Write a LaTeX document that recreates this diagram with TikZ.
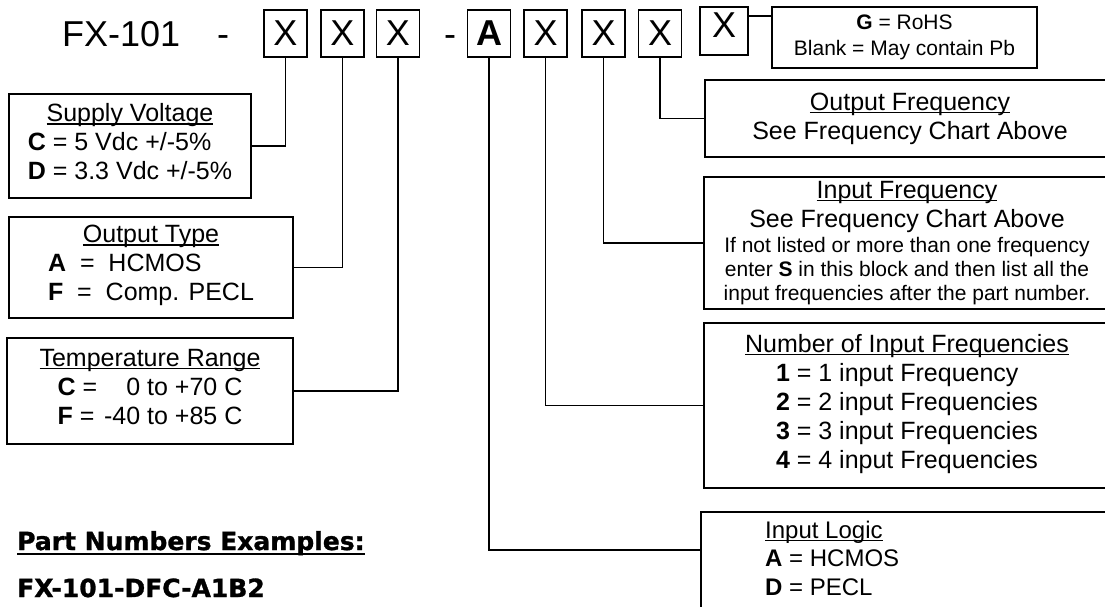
\documentclass[tikz,border=0pt]{standalone}
\usepackage{fontspec}
\setmainfont{Liberation Sans}
\newfontfamily\heavyfont{DejaVu Sans}[BoldFeatures={FakeBold=1.2}]
\newcommand{\ulab}[1]{\setbox0=\hbox{#1}\leavevmode\rlap{\vrule width\wd0 height -1.5pt depth 3pt}\box0}
\newcommand{\bigsz}{\fontsize{25}{29}\selectfont}
\newcommand{\smallsz}{\fontsize{21}{24}\selectfont}
\newcommand{\topsz}{\fontsize{36}{40}\selectfont}
\begin{document}
\begin{tikzpicture}[x=1pt,y=-1pt,
    digit/.style={draw,line width=1.9pt,inner sep=0pt,minimum width=43pt,minimum height=47pt,font=\topsz},
    infobox/.style={draw,line width=1.9pt,inner sep=0pt,align=center,font=\bigsz},
    link/.style={line width=1.9pt}]
    \useasboundingbox (0,0) rectangle (1105,607);
    % Part number
    \node[anchor=base west,inner sep=0pt,font=\topsz] (fx) at (62,47) {FX-101};
    \node[anchor=base,inner sep=0pt,font=\topsz] (dash1) at (223,47) {-};
    \node[digit] (b1) at (285.5,33.5) {X};
    \node[digit] (b2) at (342.5,33.5) {X};
    \node[digit] (b3) at (398,33.5) {X};
    \node[anchor=base,inner sep=0pt,font=\topsz] (dash2) at (450,47) {-};
    \node[digit] (bA) at (489,33.5) {\textbf{A}};
    \node[digit] (b4) at (545.5,33.5) {X};
    \node[digit] (b5) at (603.5,33.5) {X};
    \node[digit] (b6) at (660,33.5) {X};
    \node[digit,minimum width=48pt,minimum height=48pt,text depth=12pt] (bG) at (724,31) {X};

    % Left boxes
    \node[infobox,minimum width=242pt,minimum height=104pt] (supply) at (130,146)
        {\ulab{Supply Voltage}\\ \begin{tabular}[t]{@{}l@{}}\textbf{C} = 5 Vdc +/-5\%\\ \textbf{D} = 3.3 Vdc +/-5\%\end{tabular}};
    \node[infobox,minimum width=284pt,minimum height=101pt] (otype) at (151,267.5)
        {\ulab{Output Type}\\ \begin{tabular}[t]{@{}l@{}}\textbf{A}\ \ =\ \ HCMOS\\ \textbf{F}\ \ =\ \ Comp. PECL\end{tabular}};
    \node[infobox,minimum width=286pt,minimum height=106pt] (temp) at (150,391)
        {\ulab{Temperature Range}\\ \begin{tabular}[t]{@{}l@{\ }r@{}}\textbf{C} = & 0 to +70 C\\ \textbf{F} = & -40 to +85 C\end{tabular}};

    % Right boxes
    \node[infobox,minimum width=265pt,minimum height=61pt,font=\fontsize{21}{26}\selectfont] (rohs) at (904.5,37.5)
        {\textbf{G} = RoHS\\ Blank = May contain Pb};
    \node[infobox,minimum width=410pt,minimum height=77pt] (ofreq) at (910,118.5)
        {\ulab{Output Frequency}\\ See Frequency Chart Above};
    \node[infobox,minimum width=406pt,minimum height=132pt] (ifreq) at (907,243)
        {\ulab{Input Frequency}\\ See Frequency Chart Above\\[-4pt]
        {\smallsz If not listed or more than one frequency}\\[-5pt]
        {\smallsz enter \textbf{S} in this block and then list all the}\\[-5pt]
        {\smallsz input frequencies after the part number.}};
    \node[infobox,minimum width=406pt,minimum height=165pt] (nfreq) at (907,405.5)
        {\ulab{Number of Input Frequencies}\\ \begin{tabular}[t]{@{}l@{}}\textbf{1} = 1 input Frequency\\ \textbf{2} = 2 input Frequencies\\ \textbf{3} = 3 input Frequencies\\ \textbf{4} = 4 input Frequencies\end{tabular}};
    \node[infobox,minimum width=409pt,minimum height=100pt] (logic) at (905.5,562) {};
    \node[anchor=west,inner sep=0pt,align=left,font=\fontsize{24}{28.5}\selectfont] (logictxt) at (765,558)
        {\ulab{Input Logic}\\ \textbf{A} = HCMOS\\ \textbf{D} = PECL};
    \coordinate (logicin) at (logic.west |- 0,550);

    % Connectors
    \draw[link] (b1.south) |- (supply.east);
    \draw[link] (b2.south) |- (otype.east);
    \draw[link] (b3.south) |- (temp.east);
    \draw[link] (bA.south) |- (logicin);
    \draw[link] (b4.south) |- (nfreq.west);
    \draw[link] (b5.south) |- (ifreq.west);
    \draw[link] (b6.south) |- (ofreq.west);
    \draw[link] (bG.east |- 0,16) -- (rohs.west |- 0,16);

    % Examples
    \node[anchor=base west,inner sep=0pt,font=\heavyfont\bfseries\fontsize{25}{29}\selectfont] (pex) at (17,550) {Part Numbers Examples:};
    \draw[line width=2.4pt] ([yshift=-4pt]pex.base west) -- ([yshift=-4pt]pex.base east);
    \node[anchor=base west,inner sep=0pt,font=\heavyfont\bfseries\fontsize{25}{29}\selectfont] (ex1) at (17,597) {FX-101-DFC-A1B2};
\end{tikzpicture}
\end{document}
